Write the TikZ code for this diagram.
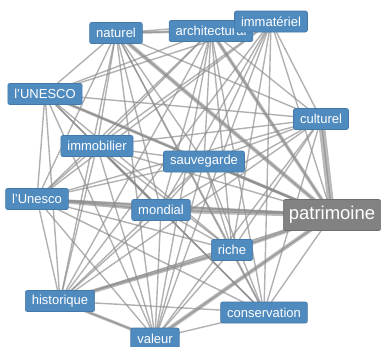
\documentclass[tikz,border=0pt]{standalone}
\usepackage{fontspec}
\setmainfont{Liberation Sans}
\usetikzlibrary{backgrounds}
\definecolor{nodeblue}{RGB}{80,139,192}
\definecolor{nodeborder}{RGB}{66,120,170}
\definecolor{patgray}{RGB}{130,130,130}
\definecolor{edgegray}{RGB}{140,140,140}
\begin{document}
\begin{tikzpicture}[x=1pt,y=-1pt,
  word/.style={draw=nodeborder, fill=nodeblue, text=white, rounded corners=2pt,
    font=\fontsize{13}{15}\selectfont, inner xsep=6.5pt, inner ysep=0pt,
    minimum height=21pt, line width=0.6pt},
  bigword/.style={word, fill=patgray, draw=patgray!85!black,
    font=\fontsize{18.5}{20}\selectfont, minimum height=31pt, inner xsep=5.5pt},
  link/.style={draw=edgegray, opacity=0.68, line width=1.4pt},
]
\useasboundingbox (0,0) rectangle (383,346);

\node[word] (nat) at (116,33) {naturel};
\node[word] (arc) at (211,31) {architectural};
\node[word] (imm) at (271,21.5) {immatériel};
\node[word] (UNa) at (45,94) {l'UNESCO};
\node[word] (cul) at (321,119) {culturel};
\node[word] (immo) at (97,146) {immobilier};
\node[word] (sau) at (204,161.5) {sauvegarde};
\node[word] (UNb) at (37,199) {l'Unesco};
\node[word] (mon) at (161,210) {mondial};
\node[bigword] (pat) at (332,215) {patrimoine};
\node[word] (ric) at (232,250) {riche};
\node[word] (his) at (60,301) {historique};
\node[word] (con) at (264,312.5) {conservation};
\node[word] (val) at (155,338.5) {valeur};

\begin{scope}[on background layer]
\foreach \a [count=\i] in {nat,arc,imm,UNa,cul,immo,sau,UNb,mon,pat,ric,his,con,val}{
  \foreach \b [count=\j] in {nat,arc,imm,UNa,cul,immo,sau,UNb,mon,pat,ric,his,con,val}{
    \ifnum\j>\i\relax \draw[link] (\a.center) -- (\b.center);\fi
  }
}
\foreach \a/\b/\w in {cul/pat/6.5, mon/pat/5, UNb/mon/4, UNb/pat/2.5, ric/pat/4,
  his/ric/4, val/pat/4, his/val/3, nat/pat/4, arc/pat/3.5, UNa/pat/3,
  nat/arc/2.5, immo/mon/2.5, sau/pat/2.5}{
  \draw[link, opacity=0.6, line width=\w pt] (\a.center) -- (\b.center);
}
\end{scope}
\end{tikzpicture}
\end{document}
